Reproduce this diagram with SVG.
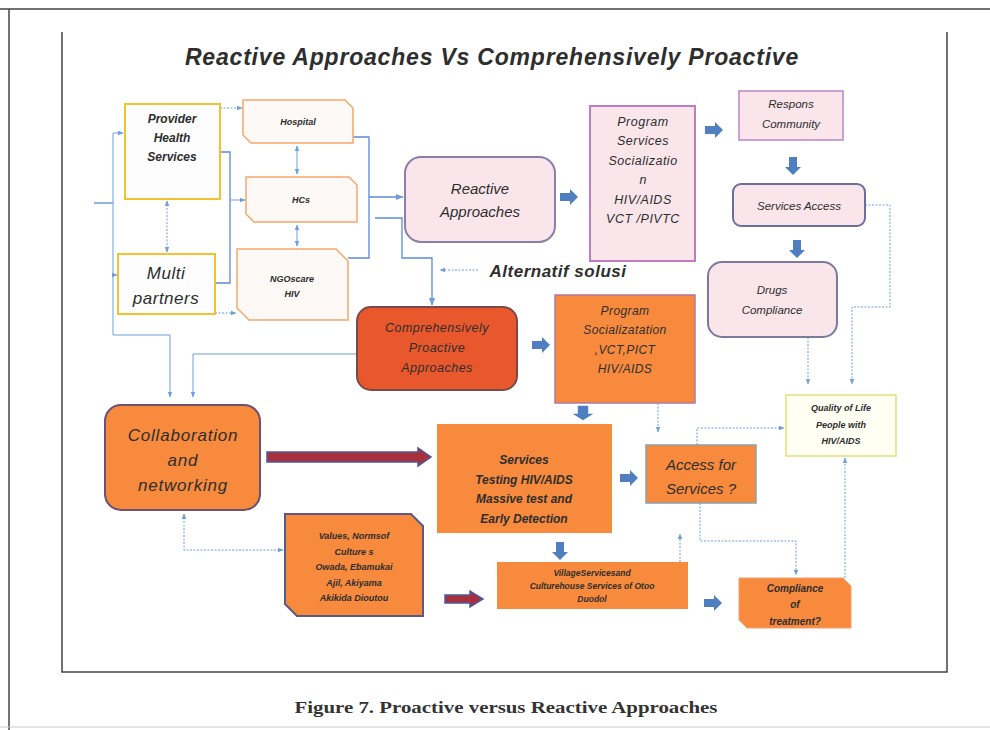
<svg xmlns="http://www.w3.org/2000/svg" width="990" height="730" viewBox="0 0 990 730">
<style>
.t{font-family:"Liberation Sans",Arial,sans-serif;font-style:italic;fill:#2e2e2e;text-anchor:middle}
.b{font-weight:bold}
.frame{fill:none;stroke:#444;stroke-width:1.5}
.yel{fill:#fdfdfd;stroke:#f2c230;stroke-width:2}
.snipw{fill:#fdf9f7;stroke:#f4a86e;stroke-width:1.5}
.pink{fill:#f9e5ea}
.org{fill:#f78a3c}
.ln{fill:none;stroke:#6f9fd8;stroke-width:1}
.sol{fill:none;stroke:#5b8ad4;stroke-width:1.3}
.dot{stroke-dasharray:2,1.5}
.blk{fill:#4f7fc0}
.red{fill:#a8303c;stroke:#4a5aa0;stroke-width:1.5}
</style>
<defs>
<marker id="ah" viewBox="0 0 10 10" refX="9" refY="5" markerWidth="6" markerHeight="6" orient="auto-start-reverse"><path d="M0,1 L10,5 L0,9 z" fill="#6f9fd8"/></marker>
<path id="ba" d="M-9,-4 L1,-4 L1,-8 L9,0 L1,8 L1,4 L-9,4 Z"/>
</defs>
<rect width="990" height="730" fill="#ffffff"/>
<g id="frame">
<path class="frame" d="M0,9 H990 M9,9 V730"/>
<path class="frame" d="M62,32 V672 H947 V32"/>
<line x1="0" y1="727" x2="990" y2="727" stroke="#c8c8c8" stroke-width="1"/>
</g>
<text class="t b" x="492" y="65" font-size="23" letter-spacing="0.8" fill="#333">Reactive Approaches Vs Comprehensively Proactive</text>
<text x="506" y="713" font-family="'Liberation Serif','Times New Roman',serif" font-weight="bold" font-size="17" fill="#333" text-anchor="middle" textLength="423" lengthAdjust="spacingAndGlyphs">Figure 7. Proactive versus Reactive Approaches</text>

<g id="connectors">
<path class="sol" d="M94,203 H113" stroke-width="2"/>
<path class="ln" d="M113,133 V335 H170 V397" marker-end="url(#ah)"/>
<path class="ln" d="M113,133 H123" marker-end="url(#ah)"/>
<path class="ln" d="M113,275 H117" marker-end="url(#ah)"/>
<path class="ln dot" d="M220,108 H242" marker-end="url(#ah)"/>
<path class="ln dot" d="M215,313 H236" marker-end="url(#ah)"/>
<path class="ln dot" d="M167,201 V252" marker-start="url(#ah)" marker-end="url(#ah)"/>
<path class="sol" d="M215,283 H230 V152 H221"/>
<path class="ln" d="M230,200 H245" marker-end="url(#ah)"/>
<path class="ln" d="M297,146 V174" marker-start="url(#ah)" marker-end="url(#ah)"/>
<path class="ln" d="M297,225 V246" marker-start="url(#ah)" marker-end="url(#ah)"/>
<path class="sol" d="M353,137 H369 V258 H348"/>
<path class="sol" d="M369,197 H403" marker-end="url(#ah)"/>
<path class="sol" d="M375,218 H402 V258 H432 V305" marker-end="url(#ah)"/>
<path class="ln dot" d="M478,270 H440" marker-end="url(#ah)"/>
<path class="ln" d="M357,354 H193 V397" marker-end="url(#ah)"/>
<path class="ln dot" d="M184,514 V550 H283" marker-start="url(#ah)" marker-end="url(#ah)"/>
<path class="ln dot" d="M865,205 H890 V307 H852 V384" marker-end="url(#ah)"/>
<path class="ln dot" d="M808,337 V384" marker-end="url(#ah)"/>
<path class="ln dot" d="M658,403 V432" marker-end="url(#ah)"/>
<path class="ln dot" d="M697,445 V428 H784" marker-end="url(#ah)"/>
<path class="ln dot" d="M700,503 V541 H796 V575" marker-end="url(#ah)"/>
<path class="ln dot" d="M845,578 V458" marker-end="url(#ah)"/>
<path class="ln dot" d="M680,562 V534" marker-end="url(#ah)"/>
<use href="#ba" class="blk" transform="translate(569,197)"/>
<use href="#ba" class="blk" transform="translate(714,130)"/>
<use href="#ba" class="blk" transform="translate(793,166) rotate(90)"/>
<use href="#ba" class="blk" transform="translate(797,249) rotate(90)"/>
<use href="#ba" class="blk" transform="translate(541,345)"/>
<use href="#ba" class="blk" transform="translate(583,413) rotate(90) scale(0.8,1.3)"/>
<use href="#ba" class="blk" transform="translate(629,478)"/>
<use href="#ba" class="blk" transform="translate(560,551) rotate(90)"/>
<use href="#ba" class="blk" transform="translate(713,603)"/>
<path class="red" d="M267,452 H418 V448 L431,457 L418,466 V462 H267 Z"/>
<path class="red" d="M445,595 H470 V591 L483,599 L470,607 V603 H445 Z"/>
</g>

<g id="provider">
<rect class="yel" x="125" y="104" width="95" height="95"/>
<text class="t b" x="172" y="123" font-size="12">Provider</text>
<text class="t b" x="172" y="142" font-size="12">Health</text>
<text class="t b" x="172" y="161" font-size="12">Services</text>
</g>
<g id="multi">
<rect class="yel" x="118" y="254" width="97" height="60"/>
<text class="t" x="166" y="279" font-size="17" letter-spacing="0.5">Multi</text>
<text class="t" x="166" y="304" font-size="17" letter-spacing="0.5">partners</text>
</g>
<g id="hospital">
<path class="snipw" d="M243,100 H345 L353,108 V143 H251 L243,135 Z"/>
<text class="t b" x="298" y="125" font-size="9">Hospital</text>
</g>
<g id="hcs">
<path class="snipw" d="M246,177 H349 L357,185 V222 H254 L246,214 Z"/>
<text class="t b" x="301" y="203" font-size="9">HCs</text>
</g>
<g id="ngo">
<path class="snipw" d="M237,249 H336 L348,261 V320 H249 L237,308 Z"/>
<text class="t b" x="292" y="282" font-size="9">NGOscare</text>
<text class="t b" x="292" y="297" font-size="9">HIV</text>
</g>
<g id="reactive">
<rect class="pink" x="405" y="157" width="150" height="85" rx="16" stroke="#8a7fa8" stroke-width="2"/>
<text class="t" x="480" y="194" font-size="15">Reactive</text>
<text class="t" x="480" y="217" font-size="15">Approaches</text>
</g>
<g id="programServices">
<rect class="pink" x="590" y="106" width="105" height="155" stroke="#c27bc2" stroke-width="2"/>
<text class="t" x="643" y="126" font-size="12.5" letter-spacing="0.5">Program</text>
<text class="t" x="643" y="145" font-size="12.5" letter-spacing="0.5">Services</text>
<text class="t" x="643" y="165" font-size="12.5" letter-spacing="0.5">Socializatio</text>
<text class="t" x="643" y="184" font-size="12.5">n</text>
<text class="t" x="643" y="204" font-size="12.5" letter-spacing="0.5">HIV/AIDS</text>
<text class="t" x="643" y="223" font-size="12.5" letter-spacing="0.5">VCT /PIVTC</text>
</g>
<g id="respons">
<rect class="pink" x="739" y="91" width="104" height="49" stroke="#b986c8" stroke-width="1.5"/>
<text class="t" x="791" y="108" font-size="11.5">Respons</text>
<text class="t" x="791" y="128" font-size="11.5">Community</text>
</g>
<g id="servicesAccess">
<rect class="pink" x="733" y="184" width="132" height="42" rx="8" stroke="#6e6e9e" stroke-width="2"/>
<text class="t" x="799" y="210" font-size="11.5">Services Access</text>
</g>
<g id="drugs">
<rect class="pink" x="708" y="262" width="129" height="75" rx="14" stroke="#7a7a9e" stroke-width="2"/>
<text class="t" x="772" y="294" font-size="11.5">Drugs</text>
<text class="t" x="772" y="314" font-size="11.5">Compliance</text>
</g>
<g id="quality">
<rect x="786" y="395" width="110" height="61" fill="#fffff4" stroke="#e6de7a" stroke-width="1.5"/>
<text class="t b" x="841" y="411" font-size="9">Quality of Life</text>
<text class="t b" x="841" y="428" font-size="9">People with</text>
<text class="t b" x="841" y="444" font-size="9">HIV/AIDS</text>
</g>
<g id="comprehensive">
<rect x="357" y="307" width="160" height="83" rx="14" fill="#e8582c" stroke="#7a4a4a" stroke-width="2"/>
<text class="t" x="437" y="332" font-size="12.5" letter-spacing="0.5">Comprehensively</text>
<text class="t" x="437" y="352" font-size="12.5" letter-spacing="0.5">Proactive</text>
<text class="t" x="437" y="372" font-size="12.5" letter-spacing="0.5">Approaches</text>
</g>
<g id="programSocial">
<rect class="org" x="555" y="295" width="140" height="108" stroke="#b07aa0" stroke-width="1.5"/>
<text class="t" x="625" y="315" font-size="12" letter-spacing="0.4">Program</text>
<text class="t" x="625" y="334" font-size="12" letter-spacing="0.4">Socializatation</text>
<text class="t" x="625" y="354" font-size="12" letter-spacing="0.4">,VCT,PICT</text>
<text class="t" x="625" y="373" font-size="12" letter-spacing="0.4">HIV/AIDS</text>
</g>
<g id="access">
<rect class="org" x="646" y="445" width="110" height="58" stroke="#8aa0a8" stroke-width="1.5"/>
<text class="t" x="701" y="470" font-size="15">Access for</text>
<text class="t" x="701" y="494" font-size="15">Services ?</text>
</g>
<g id="compliance">
<path class="org" d="M739,578 H843 L851,586 V628 H747 L739,620 Z" stroke="#f0a070" stroke-width="1"/>
<text class="t b" x="795" y="592" font-size="10">Compliance</text>
<text class="t b" x="795" y="608" font-size="10">of</text>
<text class="t b" x="795" y="625" font-size="10">treatment?</text>
</g>
<g id="collaboration">
<rect class="org" x="105" y="405" width="155" height="105" rx="16" stroke="#6e5070" stroke-width="2"/>
<text class="t" x="183" y="441" font-size="17" letter-spacing="0.8">Collaboration</text>
<text class="t" x="183" y="466" font-size="17" letter-spacing="0.8">and</text>
<text class="t" x="183" y="491" font-size="17" letter-spacing="0.8">networking</text>
</g>
<g id="servicesTesting">
<rect class="org" x="437" y="424" width="175" height="109"/>
<text class="t b" x="524" y="464" font-size="12">Services</text>
<text class="t b" x="524" y="484" font-size="12">Testing HIV/AIDS</text>
<text class="t b" x="524" y="503" font-size="12">Massive test and</text>
<text class="t b" x="524" y="523" font-size="12">Early Detection</text>
</g>
<g id="values">
<path class="org" d="M285,514 H411 L423,526 V616 H297 L285,604 Z" stroke="#5a5a8a" stroke-width="2"/>
<text class="t b" x="354" y="539" font-size="9">Values, Normsof</text>
<text class="t b" x="354" y="555" font-size="9">Culture s</text>
<text class="t b" x="354" y="570" font-size="9">Owada, Ebamukai</text>
<text class="t b" x="354" y="586" font-size="9">Ajil, Akiyama</text>
<text class="t b" x="354" y="601" font-size="9">Akikida Dioutou</text>
</g>
<g id="villages">
<rect class="org" x="497" y="562" width="191" height="47"/>
<text class="t b" x="592" y="576" font-size="8.5">VillageServicesand</text>
<text class="t b" x="592" y="589" font-size="8.5">Culturehouse Services of Otoo</text>
<text class="t b" x="592" y="602" font-size="8.5">Duodol</text>
</g>
<text class="t b" x="558" y="277" font-size="17" letter-spacing="0.5" fill="#333">Alternatif solusi</text>
</svg>
